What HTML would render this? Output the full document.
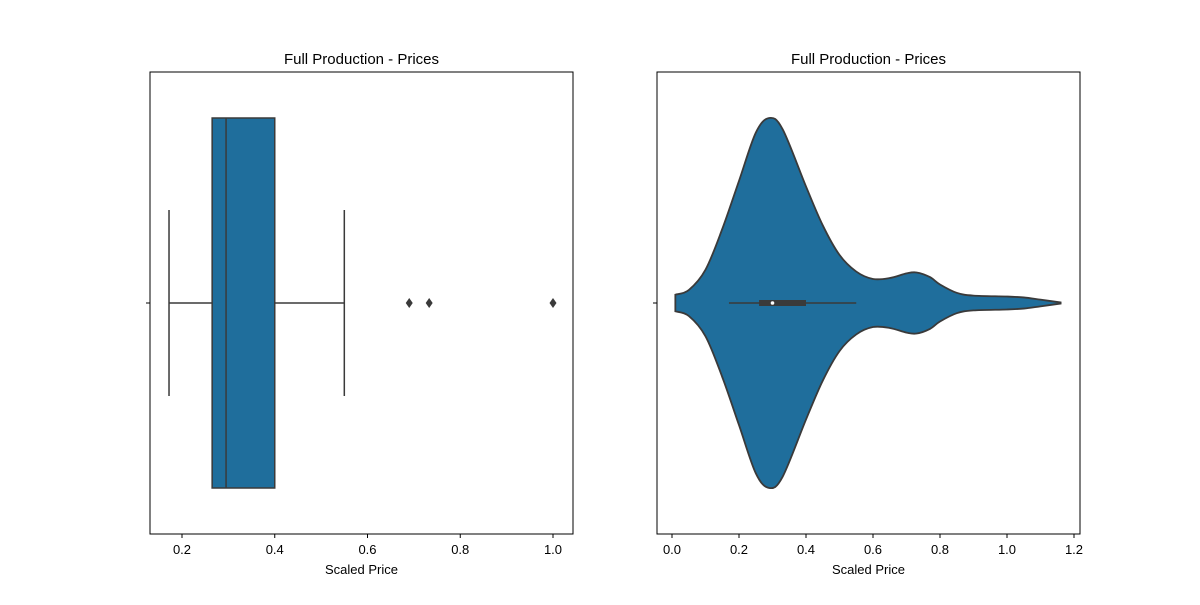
<!DOCTYPE html>
<html><head><meta charset="utf-8"><style>
body{margin:0;background:#fff;}
svg text{font-family:"Liberation Sans","DejaVu Sans",sans-serif;fill:#000;}
</style></head><body>
<svg id="c" width="1200" height="600" xmlns="http://www.w3.org/2000/svg"></svg>
<script>
// Box plot data
const boxStats = {whiskerLow:0.172, q1:0.265, median:0.295, q3:0.40, whiskerHigh:0.55};
const outliers = [0.69, 0.733, 1.0];
const leftTicks = [0.2,0.4,0.6,0.8,1.0];
const leftTickLabels = ["0.2","0.4","0.6","0.8","1.0"];
// Violin data (kde half-width fraction)
const kdeX = [0.01,0.05,0.1,0.15,0.2,0.25,0.29,0.33,0.4,0.45,0.5,0.55,0.6,0.65,0.7,0.73,0.77,0.8,0.85,0.9,1.0,1.05,1.1,1.16];
const kdeY = [0.045,0.07,0.18,0.4,0.66,0.92,1.0,0.94,0.63,0.42,0.26,0.17,0.13,0.135,0.16,0.165,0.14,0.1,0.055,0.04,0.035,0.03,0.018,0.003];
const innerStats = {whiskerLow:0.17, q1:0.26, median:0.30, q3:0.40, whiskerHigh:0.55};
const rightTicks = [0,0.2,0.4,0.6,0.8,1.0,1.2];
const rightTickLabels = ["0.0","0.2","0.4","0.6","0.8","1.0","1.2"];

const svgEl=document.getElementById('c');
const NS='http://www.w3.org/2000/svg';
function mk(tag,attrs,name,parent){const e=document.createElementNS(NS,tag);for(const k in attrs)e.setAttribute(k,attrs[k]);


(parent||svgEl).appendChild(e);return e;}
const COL='#1f6e9c', DK='#3a3a3a';
const cy=303;
function axes(x0,x1,ticks,labels,sx,pfx){
  const g=mk('g',{},pfx+'-axes');
  mk('rect',{x:x0,y:72,width:x1-x0,height:462,fill:'none',stroke:'#000','stroke-width':1},pfx+'-frame',g);
  ticks.forEach((t,i)=>{const x=sx(t);
    mk('line',{x1:x,x2:x,y1:534,y2:538,stroke:'#000'},pfx+'-x-tick',g);
    const tx=mk('text',{x:x,y:554,'font-size':13,'text-anchor':'middle'},pfx+'-x-tick-label',g);tx.textContent=labels[i];});
  mk('line',{x1:x0-4,x2:x0,y1:cy,y2:cy,stroke:'#000'},pfx+'-y-tick',g);
  const xt=mk('text',{x:(x0+x1)/2,y:574,'font-size':13,'text-anchor':'middle'},pfx+'-x-axis-title',g);xt.textContent='Scaled Price';
  const tt=mk('text',{x:(x0+x1)/2,y:64,'font-size':15,'text-anchor':'middle'},pfx+'-title',g);tt.textContent='Full Production - Prices';
}
// left
const sxL=v=>182+(v-0.2)*463.75;
axes(150,573,leftTicks,leftTickLabels,sxL,'box');
const bs=boxStats;
mk('line',{x1:sxL(bs.whiskerLow),x2:sxL(bs.q1),y1:cy,y2:cy,stroke:DK,'stroke-width':1.5},'lower-whisker');
mk('line',{x1:sxL(bs.q3),x2:sxL(bs.whiskerHigh),y1:cy,y2:cy,stroke:DK,'stroke-width':1.5},'upper-whisker');
mk('line',{x1:sxL(bs.whiskerLow),x2:sxL(bs.whiskerLow),y1:210,y2:396,stroke:DK,'stroke-width':1.5},'lower-cap');
mk('line',{x1:sxL(bs.whiskerHigh),x2:sxL(bs.whiskerHigh),y1:210,y2:396,stroke:DK,'stroke-width':1.5},'upper-cap');
mk('rect',{x:sxL(bs.q1),y:118,width:sxL(bs.q3)-sxL(bs.q1),height:370,fill:COL,stroke:DK,'stroke-width':1.5},'box');
mk('line',{x1:sxL(bs.median),x2:sxL(bs.median),y1:118,y2:488,stroke:DK,'stroke-width':1.5},'median-line');
outliers.forEach(o=>{const x=sxL(o);mk('path',{d:`M${x},${cy-5}L${x+3.5},${cy}L${x},${cy+5}L${x-3.5},${cy}Z`,fill:DK},'outlier');});
// right
const sxR=v=>672+v*335;
axes(657,1080,rightTicks,rightTickLabels,sxR,'violin');
const H=185;
const topPts=kdeX.map((v,i)=>[sxR(v),cy-kdeY[i]*H]);
const botPts=kdeX.map((v,i)=>[sxR(v),cy+kdeY[i]*H]).reverse();
function cr(p){let d='';for(let i=0;i<p.length-1;i++){const p0=p[Math.max(i-1,0)],p1=p[i],p2=p[i+1],p3=p[Math.min(i+2,p.length-1)];
d+=`C${p1[0]+(p2[0]-p0[0])/6},${p1[1]+(p2[1]-p0[1])/6} ${p2[0]-(p3[0]-p1[0])/6},${p2[1]-(p3[1]-p1[1])/6} ${p2[0]},${p2[1]}`;}return d;}
const vd=`M${topPts[0][0]},${topPts[0][1]}`+cr(topPts)+`L${botPts[0][0]},${botPts[0][1]}`+cr(botPts)+'Z';
mk('path',{d:vd,fill:COL,stroke:DK,'stroke-width':1.8},'violin-body');
const ins=innerStats;
mk('line',{x1:sxR(ins.whiskerLow),x2:sxR(ins.whiskerHigh),y1:cy,y2:cy,stroke:DK,'stroke-width':1.5},'inner-whisker');
mk('rect',{x:sxR(ins.q1),y:cy-3,width:sxR(ins.q3)-sxR(ins.q1),height:6,fill:DK},'inner-box');
mk('circle',{cx:sxR(ins.median),cy:cy,r:1.8,fill:'#fff'},'inner-median');
</script>
</body></html>
